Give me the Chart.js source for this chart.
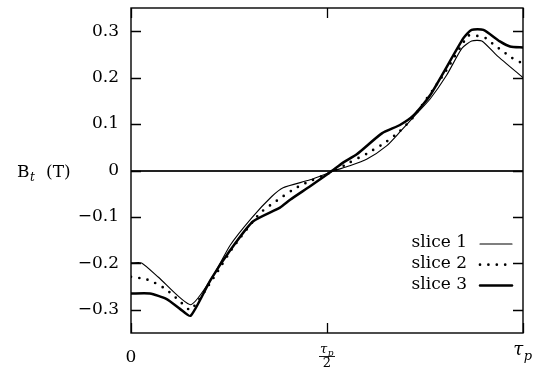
<!DOCTYPE html>
<html><head><meta charset="utf-8">
<script src="https://cdn.jsdelivr.net/npm/chart.js@4/dist/chart.umd.min.js"></script>
<style>html,body{margin:0;padding:0;background:#fff}#wrap{width:538px;height:368px;position:relative}</style>
</head><body><div id="wrap"><canvas id="c"></canvas></div>
<script>
// ---- data ----
const seriesNames = ['slice 1', 'slice 2', 'slice 3'];

const slice1X = [0, 0.027, 0.07, 0.152, 0.21, 0.253, 0.308, 0.359, 0.388, 0.457, 0.52, 0.554, 0.601, 0.652, 0.686, 0.724, 0.763, 0.805, 0.844, 0.869, 0.895, 0.933, 1.0];
const slice1Y = [-0.199, -0.199, -0.230, -0.289, -0.226, -0.161, -0.102, -0.056, -0.037, -0.020, 0, 0.009, 0.024, 0.053, 0.083, 0.118, 0.154, 0.205, 0.263, 0.279, 0.279, 0.248, 0.200];

const slice2X = [0, 0.038, 0.061, 0.082, 0.104, 0.125, 0.152, 0.21, 0.26, 0.329, 0.372, 0.414, 0.438, 0.52, 0.557, 0.601, 0.648, 0.686, 0.72, 0.80, 0.86, 0.882, 0.905, 0.927, 0.95, 0.971, 1.0];
const slice2Y = [-0.229, -0.234, -0.242, -0.252, -0.266, -0.282, -0.300, -0.232, -0.166, -0.092, -0.065, -0.041, -0.030, 0, 0.017, 0.036, 0.060, 0.085, 0.115, 0.210, 0.290, 0.290, 0.285, 0.270, 0.256, 0.243, 0.230];

const slice3X = [0, 0.048, 0.091, 0.125, 0.152, 0.202, 0.253, 0.311, 0.38, 0.406, 0.457, 0.508, 0.541, 0.576, 0.64, 0.686, 0.72, 0.763, 0.848, 0.869, 0.899, 0.941, 0.967, 1.0];
const slice3Y = [-0.265, -0.265, -0.277, -0.298, -0.313, -0.237, -0.172, -0.110, -0.080, -0.063, -0.034, -0.004, 0.017, 0.035, 0.080, 0.098, 0.118, 0.162, 0.285, 0.303, 0.303, 0.278, 0.267, 0.265];

const yTickValues = [-0.3, -0.2, -0.1, 0, 0.1, 0.2, 0.3];
const yTickLabels = ['\u22120.3', '\u22120.2', '\u22120.1', '0', '0.1', '0.2', '0.3'];
const xTickValues = [0, 0.5, 1];
const xTickLabels = ['0', '\u03C4_p/2', '\u03C4_p'];
const yAxisTitle = 'B_t (T)';
const xMin = 0, xMax = 1, yMin = -0.35, yMax = 0.35;

// ---- styling ----
const FONT = "'DejaVu Serif', 'Liberation Serif', serif";
const styles = [
  { borderWidth: 1.1, borderDash: [] },
  { borderWidth: 2.7, borderDash: [0, 8.4] },
  { borderWidth: 2.5, borderDash: [] }
];
const xs = [slice1X, slice2X, slice3X];
const ys = [slice1Y, slice2Y, slice3Y];

const datasets = seriesNames.map((name, i) => ({
  label: name,
  data: xs[i].map((x, j) => ({ x: x, y: ys[i][j] })),
  borderColor: '#000',
  borderWidth: styles[i].borderWidth,
  borderDash: styles[i].borderDash,
  borderCapStyle: 'round',
  borderJoinStyle: 'round',
  pointRadius: 0,
  fill: false,
  tension: 0.2
}));

// draw "base_sub rest" text with a subscript
function drawMath(ctx, text, x, y, size, align, italicBase) {
  let base = text, sub = '', rest = '';
  const k = text.indexOf('_');
  if (k >= 0) { base = text.slice(0, k); sub = text.charAt(k + 1); rest = text.slice(k + 2); }
  const fBase = (italicBase ? 'italic ' : '') + size + 'px ' + FONT;
  const subSize = Math.round(size * 0.72);
  const fSub = 'italic ' + subSize + 'px ' + FONT;
  const fRest = size + 'px ' + FONT;
  ctx.font = fBase; const wb = ctx.measureText(base).width;
  ctx.font = fSub; const ws = sub ? ctx.measureText(sub).width + 1 : 0;
  ctx.font = fRest; const wr = ctx.measureText(rest).width;
  const total = wb + ws + wr;
  let sx = x;
  if (align === 'center') sx = x - total / 2; else if (align === 'right') sx = x - total;
  ctx.textAlign = 'left'; ctx.textBaseline = 'alphabetic'; ctx.fillStyle = '#000';
  ctx.font = fBase; ctx.fillText(base, sx, y);
  if (sub) { ctx.font = fSub; ctx.fillText(sub, sx + wb + 0.5, y + size * 0.25); }
  if (rest) { ctx.font = fRest; ctx.fillText(rest, sx + wb + ws, y); }
  return total;
}

const framePlugin = {
  id: 'frame',
  beforeDatasetsDraw(chart) {
    const ctx = chart.ctx, a = chart.chartArea, ys_ = chart.scales.y;
    ctx.save();
    ctx.strokeStyle = '#222'; ctx.lineWidth = 1.8;
    const y0 = Math.round(ys_.getPixelForValue(0));
    ctx.beginPath(); ctx.moveTo(a.left, y0); ctx.lineTo(a.right, y0); ctx.stroke();
    ctx.restore();
  },
  afterDraw(chart) {
    const ctx = chart.ctx, a = chart.chartArea, sx = chart.scales.x, sy = chart.scales.y;
    ctx.save();
    // box
    ctx.strokeStyle = '#000'; ctx.lineWidth = 1.4;
    ctx.strokeRect(a.left, a.top, a.right - a.left, a.bottom - a.top);
    // inward ticks
    ctx.lineWidth = 1.3;
    const L = 10;
    yTickValues.forEach(v => {
      const p = Math.round(sy.getPixelForValue(v)) + 0.5;
      ctx.beginPath();
      ctx.moveTo(a.left, p); ctx.lineTo(a.left + L, p);
      ctx.moveTo(a.right, p); ctx.lineTo(a.right - L, p);
      ctx.stroke();
    });
    xTickValues.forEach(v => {
      const p = Math.round(sx.getPixelForValue(v)) + 0.5;
      ctx.beginPath();
      ctx.moveTo(p, a.bottom); ctx.lineTo(p, a.bottom - L);
      ctx.moveTo(p, a.top); ctx.lineTo(p, a.top + L);
      ctx.stroke();
    });
    // x tick labels
    xTickValues.forEach((v, i) => {
      const p = sx.getPixelForValue(v);
      const lab = xTickLabels[i];
      if (lab.indexOf('/') >= 0) {
        const parts = lab.split('/');
        drawMath(ctx, parts[0], p, a.bottom + 20, 13, 'center', true);
        ctx.strokeStyle = '#000'; ctx.lineWidth = 0.9;
        ctx.beginPath(); ctx.moveTo(p - 8, a.bottom + 23.5); ctx.lineTo(p + 8, a.bottom + 23.5); ctx.stroke();
        drawMath(ctx, parts[1], p, a.bottom + 34, 13, 'center', false);
      } else if (lab.indexOf('_') >= 0) {
        drawMath(ctx, lab, p, a.bottom + 22, 18, 'center', true);
      } else {
        drawMath(ctx, lab, p, a.bottom + 29, 17, 'center', false);
      }
    });
    // y title
    const y0 = sy.getPixelForValue(0);
    drawMath(ctx, yAxisTitle.replace(' ', '  '), 17, y0 + 6, 17, 'left', false);
    // legend (inside, bottom right)
    const textRight = a.right - 56, lineL = a.right - 43, lineR = a.right - 11;
    chart.data.datasets.forEach((ds, i) => {
      const ly = sy.getPixelForValue(yMin) - 90 + i * 20.7;
      ctx.font = '17px ' + FONT; ctx.fillStyle = '#000';
      ctx.textAlign = 'right'; ctx.textBaseline = 'middle';
      ctx.fillText(ds.label, textRight, ly);
      ctx.strokeStyle = ds.borderColor; ctx.lineWidth = ds.borderWidth;
      ctx.lineCap = 'round'; ctx.setLineDash(ds.borderDash || []);
      ctx.beginPath(); ctx.moveTo(lineL, ly + 1); ctx.lineTo(lineR, ly + 1); ctx.stroke();
      ctx.setLineDash([]);
    });
    ctx.restore();
  }
};

new Chart(document.getElementById('c'), {
  type: 'line',
  data: { datasets: datasets },
  options: {
    responsive: true,
    maintainAspectRatio: false,
    animation: false,
    layout: { padding: { top: 8, right: 15, left: 0, bottom: 0 } },
    plugins: { legend: { display: false }, tooltip: { enabled: false } },
    scales: {
      x: {
        type: 'linear', min: xMin, max: xMax,
        grid: { display: false }, border: { display: false },
        ticks: { display: false },
        afterFit: s => { s.height = 35; s.paddingLeft = 0; s.paddingRight = 0; }
      },
      y: {
        type: 'linear', min: yMin, max: yMax,
        grid: { display: false, drawTicks: false }, border: { display: false },
        afterBuildTicks: s => { s.ticks = yTickValues.map(v => ({ value: v })); },
        ticks: {
          autoSkip: false, padding: 12, color: '#000',
          font: { family: FONT, size: 17 },
          callback: v => { const k = yTickValues.findIndex(t => Math.abs(t - v) < 1e-9); return k >= 0 ? yTickLabels[k] : ''; }
        },
        afterFit: s => { s.width = 131; s.paddingTop = 0; s.paddingBottom = 0; }
      }
    }
  },
  plugins: [framePlugin]
});
</script>
</body></html>
